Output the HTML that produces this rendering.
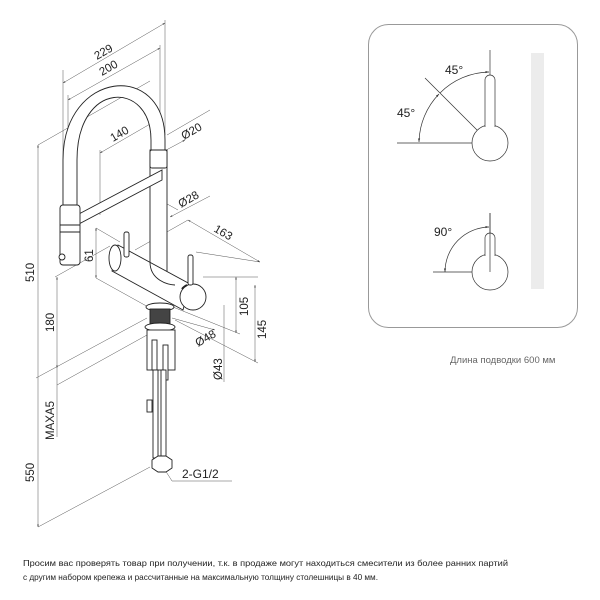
<!DOCTYPE html>
<html><head><meta charset="utf-8"><style>
html,body{margin:0;padding:0;background:#fff}
svg{display:block}
text{font-family:"Liberation Sans","DejaVu Sans",sans-serif;fill:#222}
</style></head><body>
<svg width="600" height="600" viewBox="0 0 600 600" xmlns="http://www.w3.org/2000/svg">
<defs>
<marker id="a" markerWidth="6" markerHeight="6" refX="5" refY="3" orient="auto-start-reverse"><path d="M0,1.5 L5,3 L0,4.5z" fill="#333"/></marker>
</defs>
<!-- right panel -->
<rect x="368.5" y="24.5" width="209" height="303" rx="20" fill="none" stroke="#999" stroke-width="1"/>
<rect x="531" y="53" width="13" height="236" fill="#ececec"/>
<g stroke="#333" stroke-width="0.7" fill="none">
<line x1="490" y1="50" x2="490" y2="143"/>
<line x1="397" y1="143" x2="490" y2="143"/>
<line x1="425" y1="78" x2="490" y2="143"/>
<path d="M419,142 A71,71 0 0 1 439,94" marker-start="url(#a)" marker-end="url(#a)"/>
<path d="M440,93 A71,71 0 0 1 489,72" marker-end="url(#a)"/>
<circle cx="490" cy="143" r="18" fill="#fff"/>
<path d="M485,127 V80 a5,5 0 0 1 10,0 V127" fill="#fff"/>
<line x1="490" y1="213" x2="490" y2="272"/>
<line x1="433" y1="272" x2="490" y2="272"/>
<path d="M445,272 A45,45 0 0 1 489,227" marker-start="url(#a)" marker-end="url(#a)"/>
<circle cx="490" cy="272" r="18" fill="#fff"/>
<path d="M485,256 V238 a5,5 0 0 1 10,0 V256" fill="#fff"/>
<line x1="490" y1="213" x2="490" y2="272"/>
</g>
<text x="445" y="74" font-size="12">45°</text>
<text x="397" y="117" font-size="12">45°</text>
<text x="434" y="236" font-size="12">90°</text>
<text x="450" y="363" font-size="9.5" fill="#666" style="fill:#666">Длина подводки 600 мм</text>

<!-- left drawing: dimension lines -->
<g stroke="#555" stroke-width="0.5" fill="none">
<line x1="63" y1="83" x2="165" y2="23" marker-start="url(#a)" marker-end="url(#a)"/>
<line x1="68" y1="100" x2="160" y2="48" marker-start="url(#a)" marker-end="url(#a)"/>
<line x1="100" y1="153" x2="157" y2="120" marker-start="url(#a)" marker-end="url(#a)"/>
<line x1="63" y1="70" x2="63" y2="205"/>
<line x1="68" y1="95" x2="68" y2="205"/>
<line x1="165" y1="20" x2="165" y2="135"/>
<line x1="160" y1="45" x2="160" y2="135"/>
<line x1="100" y1="150" x2="100" y2="215"/>
<line x1="38" y1="145" x2="38" y2="527" marker-start="url(#a)" marker-end="url(#a)"/>
<line x1="38" y1="145" x2="150" y2="81"/>
<line x1="38" y1="527" x2="150" y2="467"/>
<line x1="57" y1="277" x2="57" y2="368" marker-start="url(#a)" marker-end="url(#a)"/>
<line x1="57" y1="368" x2="57" y2="437"/>
<line x1="36" y1="378" x2="147" y2="318"/>
<line x1="57" y1="385" x2="147" y2="335"/>
<line x1="55" y1="277" x2="110" y2="246"/>
<line x1="96" y1="228" x2="96" y2="278" marker-start="url(#a)" marker-end="url(#a)"/>
<line x1="96" y1="228" x2="120" y2="242"/>
<line x1="96" y1="278" x2="150" y2="308"/>
<line x1="155" y1="156" x2="185" y2="140" marker-end="url(#a)"/>
<line x1="167" y1="135" x2="210" y2="110"/>
<line x1="160" y1="200" x2="178" y2="210" />
<line x1="170" y1="217" x2="210" y2="196" marker-start="url(#a)"/>
<line x1="188" y1="220" x2="260" y2="262" marker-start="url(#a)" marker-end="url(#a)"/>
<line x1="135" y1="250" x2="188" y2="220"/>
<line x1="196" y1="252" x2="260" y2="262"/>
<line x1="236" y1="277" x2="236" y2="333" marker-start="url(#a)" marker-end="url(#a)"/>
<line x1="255" y1="285" x2="255" y2="362" marker-start="url(#a)" marker-end="url(#a)"/>
<line x1="203" y1="277" x2="258" y2="277"/>
<line x1="168" y1="305" x2="240" y2="334"/>
<line x1="175" y1="320" x2="258" y2="363"/>
<line x1="224" y1="305" x2="224" y2="382"/>
<line x1="172" y1="318" x2="215" y2="330" marker-end="url(#a)"/>
<line x1="165" y1="470" x2="172" y2="481"/>
<line x1="172" y1="481" x2="232" y2="481"/>
</g>
<!-- faucet -->
<g stroke="#222" stroke-width="0.9" fill="#fff">
<path d="M63,212 V160 C63,70 165,60 165,140 V150 L151,150 V140 C151,80 77,80 77,160 V212z"/>
<rect x="150" y="150" width="17" height="125"/>
<rect x="150" y="150" width="17" height="18" rx="2"/>
<path d="M77,215 L162,170 L162,180 L77,225z"/>
<rect x="60" y="205" width="20" height="60" rx="3"/>
<line x1="60" y1="225" x2="80" y2="225"/>
<line x1="60" y1="232" x2="80" y2="232"/>
<circle cx="62" cy="257" r="3"/>
<path d="M118,245 L190,284 L183,310 L112,271z"/>
<ellipse cx="115" cy="258" rx="6" ry="13"/>
<path d="M150,262 C150,280 168,285 175,285" fill="none"/>
<circle cx="193" cy="297" r="13"/>
<path d="M182,289 A13,13 0 0 1 187,285" fill="none" stroke-width="2"/>
<rect x="124" y="232" width="5" height="25" rx="2"/>
<rect x="188" y="255" width="5" height="30" rx="2"/>
<ellipse cx="160" cy="307" rx="14" ry="4"/>
<rect x="150" y="309" width="20" height="16" fill="#444"/>
<ellipse cx="160" cy="327" rx="15" ry="4"/>
<rect x="147" y="330" width="28" height="40"/>
<rect x="152" y="340" width="5" height="30"/>
<rect x="163" y="345" width="5" height="35"/>
<rect x="153" y="370" width="5" height="88"/>
<rect x="161" y="370" width="5" height="88"/>
<rect x="147" y="400" width="5" height="12"/>
<path d="M152,460 l6,-4 h8 l6,4 v8 l-6,4 h-8 l-6,-4z"/>
</g>
<!-- labels -->
<g font-size="11.5">
<text transform="translate(97,60) rotate(-30)">229</text>
<text transform="translate(102,76) rotate(-30)">200</text>
<text transform="translate(113,142) rotate(-30)">140</text>
<text transform="translate(184,140) rotate(-30)">Ø20</text>
<text transform="translate(181,208) rotate(-30)">Ø28</text>
<text transform="translate(213,231) rotate(30)">163</text>
<text transform="translate(93,262) rotate(-90)">61</text>
<text transform="translate(34,282) rotate(-90)">510</text>
<text transform="translate(54,332) rotate(-90)">180</text>
<text transform="translate(54,440) rotate(-90)">MAXA5</text>
<text transform="translate(34,482) rotate(-90)">550</text>
<text transform="translate(248,316) rotate(-90)">105</text>
<text transform="translate(266,339) rotate(-90)">145</text>
<text transform="translate(198,347) rotate(-30)">Ø48</text>
<text transform="translate(222,380) rotate(-90)">Ø43</text>
<text x="182" y="478" font-size="12">2-G1/2</text>
</g>
<text x="23" y="566" font-size="8.5" textLength="485" lengthAdjust="spacingAndGlyphs">Просим вас проверять товар при получении, т.к. в продаже могут находиться смесители из более ранних партий</text>
<text x="23" y="580" font-size="8.5" textLength="355" lengthAdjust="spacingAndGlyphs">с другим набором крепежа и рассчитанные на максимальную толщину столешницы в 40 мм.</text>
</svg>
</body></html>
